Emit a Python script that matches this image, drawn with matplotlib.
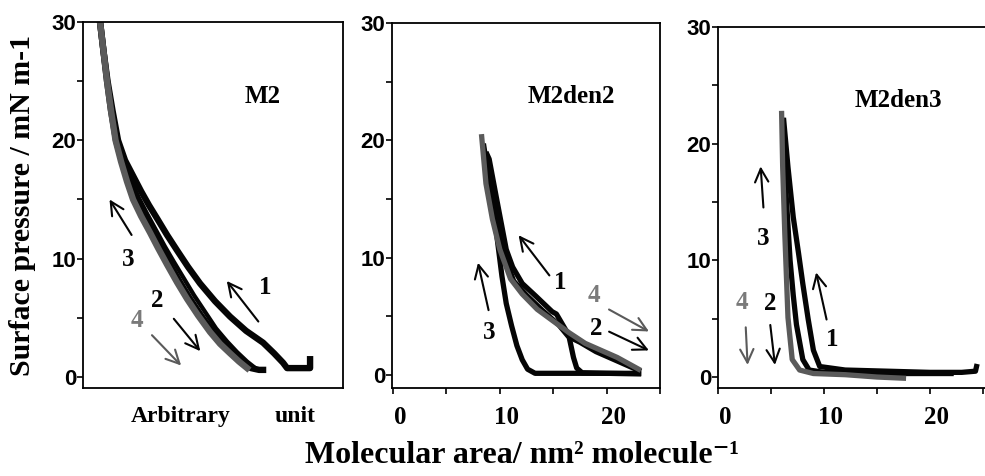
import numpy as np
import matplotlib.pyplot as plt
import matplotlib.transforms as mtransforms

plt.rcParams['font.family'] = ['Liberation Serif', 'DejaVu Serif']
plt.rcParams['font.weight'] = 'bold'

# ---- data ----
# M2 (x axis is arbitrary)
m2_1_x = [1.7, 2.05, 2.45, 2.95, 3.5, 4.2, 5.0, 5.8, 6.6, 7.4, 8.4, 9.4, 10.5, 11.7, 13.2, 14.7, 16.3, 18.0, 19.1, 20.0, 20.4, 22.7, 22.7]
m2_1_y = [30.0, 27.5, 25.0, 22.5, 20.0, 18.3, 17.0, 15.7, 14.5, 13.4, 12.0, 10.7, 9.3, 7.9, 6.4, 5.1, 3.9, 2.9, 2.0, 1.2, 0.75, 0.75, 1.5]
m2_2_x = [1.7, 2.05, 2.4, 2.8, 3.3, 3.9, 4.6, 5.3, 6.1, 7.0, 7.8, 8.7, 9.7, 10.7, 11.8, 13.0, 14.0, 15.0, 15.9, 16.8, 17.6, 18.0]
m2_2_y = [30.0, 27.5, 25.0, 22.5, 20.0, 18.2, 16.5, 15.0, 13.6, 12.2, 10.9, 9.5, 8.0, 6.6, 5.2, 3.8, 2.8, 2.0, 1.3, 0.75, 0.6, 0.6]
m2_3_x = [1.7, 2.05, 2.45, 2.9, 3.4, 4.0, 4.8, 5.6, 6.4, 7.3, 8.2, 9.1, 10.1, 11.1, 12.2, 13.3, 14.4, 15.4, 16.4, 17.3]
m2_3_y = [30.0, 27.5, 25.0, 22.5, 20.0, 18.3, 16.6, 15.1, 13.8, 12.4, 11.0, 9.7, 8.3, 6.9, 5.5, 4.1, 3.0, 2.1, 1.3, 0.7]
m2_4_x = [1.7, 2.05, 2.4, 2.8, 3.25, 3.8, 4.4, 5.0, 5.8, 6.7, 7.5, 8.4, 9.4, 10.4, 11.5, 12.7, 13.7, 14.7, 15.6, 16.4]
m2_4_y = [30.0, 27.5, 25.0, 22.5, 20.0, 18.2, 16.5, 15.0, 13.6, 12.2, 10.9, 9.5, 8.0, 6.6, 5.2, 3.8, 2.8, 2.0, 1.3, 0.75]

# M2den2
d2_1_x = [8.8, 9.0, 9.7, 10.6, 11.2, 12.1, 13.4, 14.9, 15.3, 16.2, 16.6, 17.5, 19.0, 21.0, 23.0]
d2_1_y = [18.8, 18.4, 15.0, 10.7, 9.2, 7.8, 6.7, 5.4, 5.2, 3.8, 3.2, 2.8, 2.0, 1.2, 0.4]
d2_2_x = [8.5, 9.0, 9.6, 10.3, 11.3, 12.5, 14.0, 15.5, 16.5, 16.9, 17.2, 17.7, 20.0, 23.0]
d2_2_y = [19.5, 16.5, 13.5, 10.5, 8.0, 6.8, 5.5, 4.3, 3.2, 1.5, 0.6, 0.2, 0.15, 0.1]
d2_3_x = [9.0, 9.3, 9.7, 10.2, 10.6, 11.1, 11.6, 12.1, 12.6, 13.3, 18.0, 23.0]
d2_3_y = [18.0, 15.0, 12.0, 8.4, 6.1, 4.2, 2.5, 1.3, 0.5, 0.15, 0.15, 0.15]
d2_4_x = [8.3, 8.7, 9.3, 10.0, 11.0, 12.1, 13.5, 15.0, 16.5, 18.0, 19.5, 21.0, 22.0, 23.0]
d2_4_y = [20.3, 16.3, 13.3, 10.7, 8.2, 6.9, 5.6, 4.6, 3.6, 2.7, 2.1, 1.5, 1.0, 0.5]

# M2den3
d3_1_x = [6.2, 6.6, 7.1, 7.6, 8.0, 8.5, 9.0, 9.6, 12.0, 16.0, 20.0, 23.0, 24.3, 24.4]
d3_1_y = [22.0, 18.0, 13.7, 10.6, 8.0, 5.0, 2.3, 0.9, 0.6, 0.5, 0.4, 0.4, 0.5, 0.9]
d3_2_x = [6.1, 6.4, 6.8, 7.1, 7.4, 8.0, 8.6, 10.0, 14.0, 18.0, 22.0]
d3_2_y = [22.0, 16.0, 10.0, 7.0, 4.5, 1.5, 0.6, 0.4, 0.3, 0.3, 0.3]
d3_4_x = [6.0, 6.1, 6.3, 6.6, 7.0, 7.7, 9.0, 12.0, 15.0, 17.5]
d3_4_y = [22.6, 18.0, 12.3, 5.1, 1.5, 0.6, 0.3, 0.2, 0.0, -0.1]

y_ticks = [0, 10, 20, 30]
y_minor = [5, 15, 25]
x_ticks = [0, 10, 20]
x_minor = [5, 15, 25]

black = '#050505'
gray = '#5a5a5a'
label_gray = '#7a7a7a'

fig = plt.figure(figsize=(9.85, 4.76), dpi=100)
ax1 = fig.add_axes([0.0843, 0.1849, 0.264, 0.769])
ax2 = fig.add_axes([0.398, 0.1849, 0.272, 0.767])
ax3 = fig.add_axes([0.729, 0.1849, 0.271, 0.758])

lw1 = 4.6
ax1.plot(m2_1_x, m2_1_y, color=black, lw=lw1)
ax1.plot(m2_3_x, m2_3_y, color=black, lw=lw1 - 1.5)
ax1.plot(m2_2_x, m2_2_y, color=black, lw=lw1)
ax1.plot(m2_4_x, m2_4_y, color=gray, lw=lw1)

lw = 3.8
ax2.plot(d2_3_x, d2_3_y, color=black, lw=lw)
ax2.plot(d2_2_x, d2_2_y, color=black, lw=lw)
ax2.plot(d2_1_x, d2_1_y, color=black, lw=lw)
ax2.plot(d2_4_x, d2_4_y, color=gray, lw=lw)

ax3.plot(d3_1_x, d3_1_y, color=black, lw=lw)
ax3.plot(d3_2_x, d3_2_y, color=black, lw=lw)
ax3.plot(d3_4_x, d3_4_y, color=gray, lw=lw)

ax1.set_xlim(0, 26)
ax1.set_ylim(-0.93, 30)
ax2.set_xlim(-0.1, 24.8)
ax2.set_ylim(-1.1, 30)
ax3.set_xlim(0, 25.2)
ax3.set_ylim(-0.94, 30)

shift = mtransforms.ScaledTranslation(7 / 100, 0, fig.dpi_scale_trans)
for ax in (ax1, ax2, ax3):
    ax.set_yticks(y_ticks)
    ax.set_yticks(y_minor, minor=True)
    ax.tick_params(axis='both', which='both', direction='out', length=4, width=1.2, pad=1)
    for s in ax.spines.values():
        s.set_linewidth(1.3)
    for lab in ax.get_yticklabels():
        lab.set_fontfamily('Liberation Sans')
        lab.set_fontweight('bold')
        lab.set_fontsize(16)

ax1.set_xticks([])
for ax in (ax2, ax3):
    ax.set_xticks(x_ticks)
    ax.set_xticks(x_minor, minor=True)
    ax.tick_params(axis='x', pad=9)
    for lab in ax.get_xticklabels():
        lab.set_fontweight('bold')
        lab.set_fontsize(18)
        lab.set_transform(lab.get_transform() + shift)
ax3.spines['right'].set_visible(False)

# panel names
title_kw = dict(fontsize=18, fontweight='bold', ha='center', va='center')
ax1.text(18.0, 23.7, 'M2', **title_kw)
ax2.text(16.7, 23.7, 'M2den2', **title_kw)
ax3.text(17.0, 23.7, 'M2den3', **title_kw)


def arrow(ax, tail, head, text, pos, color=black):
    ax.annotate('', xy=head, xytext=tail,
                arrowprops=dict(arrowstyle='->', color=color, lw=1.5,
                                mutation_scale=24))
    ax.text(pos[0], pos[1], text, color=color if color == black else label_gray,
            fontsize=18, fontweight='bold', ha='center', va='center')


arrow(ax1, (17.7, 4.5), (14.2, 8.3), '1', (18.2, 7.6))
arrow(ax1, (5.0, 11.8), (2.5, 15.2), '3', (4.5, 9.9))
arrow(ax1, (8.9, 5.1), (11.9, 2.0), '2', (7.4, 6.5))
arrow(ax1, (6.7, 3.7), (10.0, 0.8), '4', (5.4, 4.8), gray)

arrow(ax2, (14.8, 8.3), (11.6, 12.1), '1', (15.7, 7.9))
arrow(ax2, (9.0, 5.3), (7.9, 9.8), '3', (9.0, 3.6))
arrow(ax2, (20.0, 5.7), (24.2, 3.6), '4', (18.8, 6.8), gray)
arrow(ax2, (20.0, 3.8), (24.2, 2.0), '2', (19.0, 4.0))

arrow(ax3, (4.3, 14.3), (4.0, 18.3), '3', (4.3, 11.9))
arrow(ax3, (10.3, 4.7), (9.2, 9.2), '1', (10.8, 3.2))
arrow(ax3, (2.6, 4.5), (2.8, 0.8), '4', (2.3, 6.4), gray)
arrow(ax3, (4.9, 4.7), (5.4, 0.8), '2', (4.9, 6.3))

# labels
fig.text(0.183, 0.126, 'Arbitrary', fontsize=17, fontweight='bold', ha='center', va='center')
fig.text(0.300, 0.126, 'unit', fontsize=17, fontweight='bold', ha='center', va='center')
fig.text(0.023, 0.569, 'Surface pressure / mN m-1', fontsize=21.5, fontweight='bold',
         rotation=90, ha='center', va='center')
fig.text(0.53, 0.044, 'Molecular area/ nm² molecule⁻¹', fontsize=23, fontweight='bold',
         ha='center', va='center')

fig.savefig('out.png', dpi=100)
